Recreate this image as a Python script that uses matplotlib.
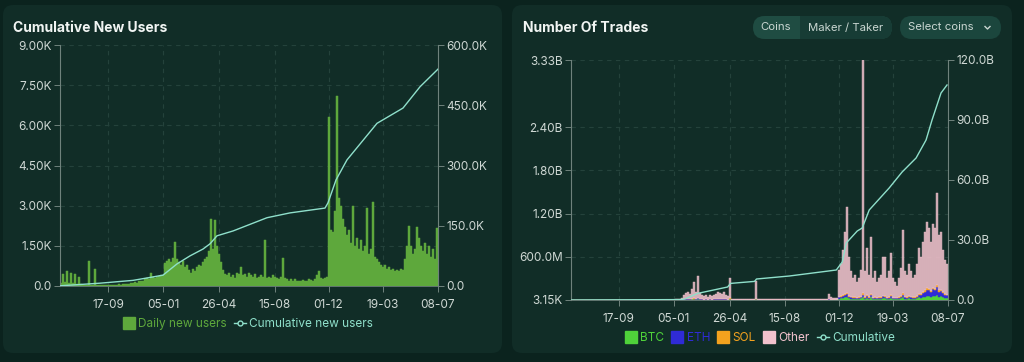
import matplotlib
matplotlib.use("Agg")
import matplotlib.pyplot as plt
import matplotlib.dates as mdates
from matplotlib.patches import FancyBboxPatch, Rectangle
from matplotlib.lines import Line2D
from matplotlib.transforms import Affine2D
import numpy as np
import pandas as pd

# ---------------- data ----------------
start_date = "2023-06-13"
bar_days = 4
tick_dates = ["2023-09-17", "2024-01-05", "2024-04-26", "2024-08-15",
              "2024-12-01", "2025-03-19", "2025-07-08"]

# daily new users (4-day buckets)
daily_new_users = [
    100, 450, 150, 550, 120, 500, 100, 450, 80, 350,
    60, 40, 40, 40, 930, 40, 30, 630, 30, 40,
    30, 35, 40, 30, 50, 40, 45, 50, 40, 60,
    50, 60, 80, 70, 90, 100, 120, 150, 130, 180,
    200, 170, 250, 300, 260, 480, 350, 300, 320, 380,
    400, 420, 850, 950, 1000, 900, 1050, 1640, 1000, 900,
    800, 950, 700, 800, 600, 500, 650, 550, 700, 800,
    750, 900, 1000, 1100, 1300, 2500, 1400, 2450, 1500, 1200,
    900, 600, 450, 400, 500, 350, 400, 300, 500, 450,
    700, 400, 450, 350, 500, 400, 350, 450, 300, 350,
    400, 350, 1700, 300, 350, 300, 400, 350, 300, 250,
    350, 1050, 300, 250, 200, 250, 200, 250, 200, 180,
    200, 220, 180, 200, 250, 220, 200, 250, 400, 550,
    300, 250, 300, 350, 6300, 2100, 2000, 2800, 7100, 3300,
    3000, 2500, 2200, 1900, 2100, 1600, 3000, 1500, 1800, 1400,
    1700, 1300, 1500, 2900, 1200, 1400, 3150, 1100, 1000, 900,
    800, 700, 800, 650, 700, 600, 650, 550, 600, 550,
    650, 600, 1000, 1500, 2250, 1500, 1200, 1400, 2200, 1800,
    1500, 1300, 1600, 1200, 1500, 1100, 1400, 1000, 2150,
]

cum_users_dates = ["2023-06-13", "2023-09-01", "2023-11-06", "2023-12-04", "2024-01-05",
                   "2024-02-02", "2024-02-28", "2024-03-25", "2024-04-08", "2024-04-22",
                   "2024-05-24", "2024-07-31", "2024-09-15", "2024-11-24", "2024-11-30",
                   "2024-12-16", "2025-01-07", "2025-03-08", "2025-04-29", "2025-06-02",
                   "2025-07-08"]
cum_users_k = [0.5, 7, 14, 20, 27, 55, 75, 92, 105, 125,
               137, 170, 182, 194, 207, 264, 314, 405, 443, 496, 540]

# number of trades (millions, 4-day buckets)
trades_btc = [
    0, 0, 0, 0, 0, 0, 0, 0, 0, 0,
    0, 0, 0, 0, 0, 0, 0, 0, 0, 0,
    0, 0, 0, 0, 0, 0, 0, 0, 0, 0,
    0, 0, 0, 0, 0, 0, 0, 0, 0, 0,
    0, 0, 0, 0, 0, 0, 0, 0, 0, 0,
    0, 0, 1, 1, 1, 2, 4, 6, 6, 5,
    8, 10, 6, 12, 5, 4, 3, 4, 3, 4,
    3, 4, 5, 6, 5, 5, 6, 4, 3, 10,
    1, 1, 1, 1, 1, 1, 1, 1, 1, 1,
    1, 1, 8, 1, 1, 1, 1, 1, 1, 1,
    1, 1, 1, 1, 1, 1, 1, 1, 1, 1,
    1, 1, 1, 1, 1, 1, 1, 1, 1, 1,
    1, 1, 1, 1, 1, 1, 1, 1, 1, 4,
    2, 1, 2, 2, 20, 25, 30, 35, 40, 25,
    20, 18, 20, 15, 18, 22, 40, 20, 30, 18,
    35, 15, 18, 14, 16, 18, 28, 26, 15, 18,
    30, 15, 14, 12, 16, 22, 40, 20, 18, 24,
    20, 16, 18, 26, 35, 30, 40, 45, 55, 50,
    40, 55, 50, 65, 45, 50, 38, 30, 28,
]
trades_eth = [
    0, 0, 0, 0, 0, 0, 0, 0, 0, 0,
    0, 0, 0, 0, 0, 0, 0, 0, 0, 0,
    0, 0, 0, 0, 0, 0, 0, 0, 0, 0,
    0, 0, 0, 0, 0, 0, 0, 0, 0, 0,
    0, 0, 0, 0, 0, 0, 0, 0, 0, 0,
    0, 0, 0, 1, 1, 1, 3, 4, 4, 3,
    6, 8, 4, 10, 4, 3, 2, 3, 2, 3,
    2, 3, 4, 5, 4, 4, 5, 3, 2, 8,
    1, 1, 1, 1, 1, 1, 1, 1, 1, 1,
    1, 1, 6, 1, 1, 1, 1, 1, 1, 1,
    1, 1, 1, 1, 1, 1, 1, 1, 1, 1,
    1, 1, 1, 1, 1, 1, 1, 1, 1, 1,
    1, 1, 1, 1, 1, 1, 1, 1, 1, 3,
    2, 1, 1, 2, 15, 18, 25, 30, 40, 20,
    15, 12, 14, 10, 12, 15, 35, 14, 25, 12,
    30, 10, 12, 10, 12, 14, 22, 20, 12, 14,
    25, 12, 10, 9, 12, 18, 35, 16, 14, 20,
    16, 12, 14, 22, 40, 35, 55, 70, 90, 85,
    70, 95, 85, 110, 70, 75, 55, 40, 35,
]
trades_sol = [
    0, 0, 0, 0, 0, 0, 0, 0, 0, 0,
    0, 0, 0, 0, 0, 0, 0, 0, 0, 0,
    0, 0, 0, 0, 0, 0, 0, 0, 0, 0,
    0, 0, 0, 0, 0, 0, 0, 0, 0, 0,
    0, 0, 0, 0, 0, 0, 0, 0, 0, 0,
    0, 0, 0, 0, 0, 0, 1, 2, 2, 1,
    3, 4, 2, 5, 2, 2, 1, 2, 1, 2,
    1, 2, 2, 3, 2, 2, 3, 2, 1, 4,
    0, 0, 0, 0, 0, 0, 0, 0, 0, 0,
    0, 0, 3, 0, 0, 0, 0, 0, 0, 0,
    0, 0, 0, 0, 0, 0, 0, 0, 0, 0,
    0, 0, 0, 0, 0, 0, 0, 0, 0, 0,
    1, 1, 1, 1, 1, 1, 1, 1, 1, 2,
    1, 1, 1, 1, 8, 10, 14, 18, 22, 12,
    8, 7, 8, 6, 7, 9, 20, 8, 14, 7,
    16, 6, 7, 6, 7, 8, 12, 11, 7, 8,
    14, 7, 6, 5, 7, 10, 18, 9, 8, 11,
    9, 7, 8, 12, 15, 12, 16, 18, 22, 20,
    16, 22, 20, 28, 18, 20, 15, 12, 10,
]
trades_other = [
    1, 1, 2, 1, 1, 3, 1, 2, 1, 1,
    2, 1, 4, 1, 2, 1, 1, 2, 3, 1,
    1, 2, 1, 1, 2, 1, 3, 2, 1, 1,
    2, 1, 2, 3, 2, 1, 2, 1, 2, 2,
    3, 2, 2, 3, 2, 3, 4, 3, 3, 4,
    5, 4, 6, 8, 12, 20, 55, 85, 95, 75,
    140, 225, 105, 310, 85, 65, 45, 55, 38, 55,
    45, 65, 75, 92, 85, 75, 92, 65, 45, 290,
    18, 8, 10, 6, 8, 5, 7, 6, 5, 8,
    6, 7, 240, 14, 8, 10, 6, 12, 9, 7,
    15, 10, 8, 6, 9, 14, 11, 8, 7, 10,
    12, 9, 8, 11, 13, 10, 9, 12, 8, 10,
    15, 11, 9, 12, 14, 10, 12, 16, 13, 75,
    30, 20, 25, 28, 377, 447, 631, 867, 1188, 543,
    357, 263, 308, 219, 263, 374, 3305, 358, 651, 313,
    799, 269, 363, 220, 265, 310, 538, 533, 266, 360,
    581, 266, 220, 174, 265, 400, 877, 355, 310, 445,
    355, 265, 310, 440, 630, 523, 689, 817, 913, 845,
    674, 878, 845, 1287, 767, 805, 592, 468, 427,
]

cum_trades_dates = ["2023-06-13", "2024-01-17", "2024-01-27", "2024-02-22", "2024-04-22",
                    "2024-04-28", "2024-06-15", "2024-06-19", "2024-08-24", "2024-11-26",
                    "2024-12-08", "2024-12-16", "2025-01-07", "2025-01-17", "2025-01-31",
                    "2025-03-12", "2025-04-07", "2025-05-05", "2025-05-25", "2025-06-06",
                    "2025-06-24", "2025-07-06"]
cum_trades_b = [0, 0.2, 0.5, 3.3, 6.5, 8.3, 9.3, 10.5, 12, 15,
                19, 28.5, 34.5, 36, 45, 56, 64, 71, 80, 90, 103.5, 107.5]

users_left_ticks = [0, 1500, 3000, 4500, 6000, 7500, 9000]
users_left_labels = ["0.0", "1.50K", "3.00K", "4.50K", "6.00K", "7.50K", "9.00K"]
users_right_ticks = [0, 150000, 300000, 450000, 600000]
users_right_labels = ["0.0", "150.0K", "300.0K", "450.0K", "600.0K"]
trades_left_ticks = [3150, 0.6e9, 1.2e9, 1.8e9, 2.4e9, 3.33e9]
trades_left_labels = ["3.15K", "600.0M", "1.20B", "1.80B", "2.40B", "3.33B"]
trades_right_ticks = [0, 30e9, 60e9, 90e9, 120e9]
trades_right_labels = ["0.0", "30.0B", "60.0B", "90.0B", "120.0B"]

# ---------------- style ----------------
plt.rcParams['font.family'] = ['Inter', 'DejaVu Sans']
BG = "#0b231e"
PANEL = "#112d27"
TICK = "#cfd8d4"
SPINE = "#6f827c"
GRID = "#24423b"
GREEN = "#5ea83c"
TEAL = "#8fe0cb"
C_BTC = "#4fd23a"
C_ETH = "#2f2bd6"
C_SOL = "#f4a21e"
C_OTHER = "#f2c2cd"

W, H = 1024, 362
fig = plt.figure(figsize=(W / 100, H / 100), dpi=100, facecolor=BG)
px = Affine2D().scale(1 / W, 1 / H) + fig.transFigure


def Y(y):
    return H - y


def rbox(x0, y0, x1, y1, r, color, z=-10):
    p = FancyBboxPatch((x0, Y(y1)), x1 - x0, y1 - y0,
                       boxstyle=f"round,pad=0,rounding_size={r}",
                       transform=px, facecolor=color, edgecolor="none", zorder=z)
    fig.add_artist(p)


rbox(3, 5, 502, 353, 10, PANEL)
rbox(512, 5, 1012, 353, 10, PANEL)

dates_users = pd.date_range(start_date, periods=len(daily_new_users), freq=f"{bar_days}D")
dates_trades = pd.date_range(start_date, periods=len(trades_other), freq=f"{bar_days}D")
x0 = pd.Timestamp(start_date)
x1 = x0 + pd.Timedelta(days=bar_days * len(daily_new_users))
ticks_x = pd.to_datetime(tick_dates)


def style_axes(ax, axr, yt, yl, yrt, yrl):
    ax.set_facecolor("none")
    ax.set_xlim(x0, x1)
    ax.set_xticks(ticks_x)
    ax.xaxis.set_major_formatter(mdates.DateFormatter("%d-%m"))
    ax.set_yticks(yt)
    ax.set_yticklabels(yl)
    axr.set_yticks(yrt)
    axr.set_yticklabels(yrl)
    for a in (ax, axr):
        a.tick_params(colors=SPINE, labelcolor=TICK, labelsize=8.5, length=4, width=0.7)
        for s in a.spines.values():
            s.set_visible(False)
    ax.tick_params(axis="x", pad=5)
    ax.tick_params(axis="y", pad=2)
    axr.tick_params(axis="y", pad=2)
    ax.spines["left"].set_visible(True)
    ax.spines["left"].set_color(SPINE)
    ax.spines["left"].set_linewidth(0.8)
    ax.spines["bottom"].set_visible(True)
    ax.spines["bottom"].set_color(SPINE)
    ax.spines["bottom"].set_linewidth(0.6)
    axr.spines["right"].set_visible(True)
    axr.spines["right"].set_color(SPINE)
    axr.spines["right"].set_linewidth(0.8)
    ax.grid(True, color=GRID, linestyle=(0, (4, 4)), linewidth=0.8)
    ax.set_axisbelow(True)


def bars(ax, x, h, color, bottom=None, alpha=1.0):
    ax.bar(x, h, bottom=bottom, width=bar_days, align="edge", color=color,
           edgecolor=color, linewidth=0.35, alpha=alpha, zorder=2)


# ---------------- left chart ----------------
ax1 = fig.add_axes([60 / W, Y(286) / H, 378 / W, 241 / H])
bars(ax1, dates_users, daily_new_users, GREEN)
ax1.set_ylim(0, 9000)
ax1r = ax1.twinx()
ax1r.plot(pd.to_datetime(cum_users_dates), np.array(cum_users_k) * 1000,
          color=TEAL, lw=1.0, zorder=3)
ax1r.set_ylim(0, 600000)
style_axes(ax1, ax1r, users_left_ticks, users_left_labels,
           users_right_ticks, users_right_labels)

fig.text(13 / W, Y(26) / H, "Cumulative New Users", fontsize=10,
         fontweight="bold", color="#f1f5f3", va="center_baseline", ha="left")

h1 = [Line2D([], [], marker="s", color=GREEN, linestyle="none", markersize=8),
      Line2D([], [], color=TEAL, marker="o", markersize=3.5,
             markerfacecolor=PANEL, markeredgewidth=1, lw=1)]
leg1 = fig.legend(h1, ["Daily new users", "Cumulative new users"], loc="center",
                  bbox_to_anchor=(248 / W, Y(324) / H), ncol=2, frameon=False,
                  fontsize=8.5, handlelength=1.0, handletextpad=0.3,
                  columnspacing=0.6)
for t, c in zip(leg1.get_texts(), [GREEN, TEAL]):
    t.set_color(c)

# ---------------- right chart ----------------
ax2 = fig.add_axes([571 / W, Y(300) / H, 377 / W, 240 / H])
scale = 1e6
b_btc = np.array(trades_btc) * scale
b_eth = np.array(trades_eth) * scale
b_sol = np.array(trades_sol) * scale
b_oth = np.array(trades_other) * scale
bars(ax2, dates_trades, b_btc, C_BTC)
bars(ax2, dates_trades, b_eth, C_ETH, bottom=b_btc)
bars(ax2, dates_trades, b_sol, C_SOL, bottom=b_btc + b_eth)
bars(ax2, dates_trades, b_oth, C_OTHER, bottom=b_btc + b_eth + b_sol, alpha=0.82)
ax2.set_ylim(3150, 3.33e9)
ax2r = ax2.twinx()
ax2r.plot(pd.to_datetime(cum_trades_dates), np.array(cum_trades_b) * 1e9,
          color=TEAL, lw=1.0, zorder=3)
ax2r.set_ylim(0, 120e9)
style_axes(ax2, ax2r, trades_left_ticks, trades_left_labels,
           trades_right_ticks, trades_right_labels)

fig.text(523 / W, Y(26) / H, "Number Of Trades", fontsize=10,
         fontweight="bold", color="#f1f5f3", va="center_baseline", ha="left")

# controls
rbox(753, 16, 892, 39, 11.5, "#1f4c42", z=-5)
rbox(800, 16, 892, 39, 11.5, "#173c35", z=-4)
fig.add_artist(Rectangle((800, Y(39)), 15, 23, transform=px,
                         facecolor="#173c35", edgecolor="none", zorder=-4))
rbox(900, 16, 1001, 39, 11.5, "#1b463d", z=-5)
btn_kw = dict(fontsize=8.2, color="#c9d6d1", va="center", ha="center")
fig.text(776 / W, Y(27.5) / H, "Coins", **btn_kw)
fig.text(846 / W, Y(27.5) / H, "Maker / Taker", **btn_kw)
fig.text(941 / W, Y(27.5) / H, "Select coins", **btn_kw)
fig.add_artist(Line2D([985, 987.5, 990], [Y(26.5), Y(29), Y(26.5)], transform=px,
                      color="#c9d6d1", lw=1.0))

h2 = [Line2D([], [], marker="s", color=c, linestyle="none", markersize=8)
      for c in (C_BTC, C_ETH, C_SOL, C_OTHER)]
h2.append(Line2D([], [], color=TEAL, marker="o", markersize=3.5,
                 markerfacecolor=PANEL, markeredgewidth=1, lw=1))
leg2 = fig.legend(h2, ["BTC", "ETH", "SOL", "Other", "Cumulative"], loc="center",
                  bbox_to_anchor=(760 / W, Y(338) / H), ncol=5, frameon=False,
                  fontsize=8.5, handlelength=1.0, handletextpad=0.3,
                  columnspacing=0.6)
for t, c in zip(leg2.get_texts(), [C_BTC, C_ETH, C_SOL, C_OTHER, TEAL]):
    t.set_color(c)

fig.savefig("out.png", dpi=100, facecolor=BG)
